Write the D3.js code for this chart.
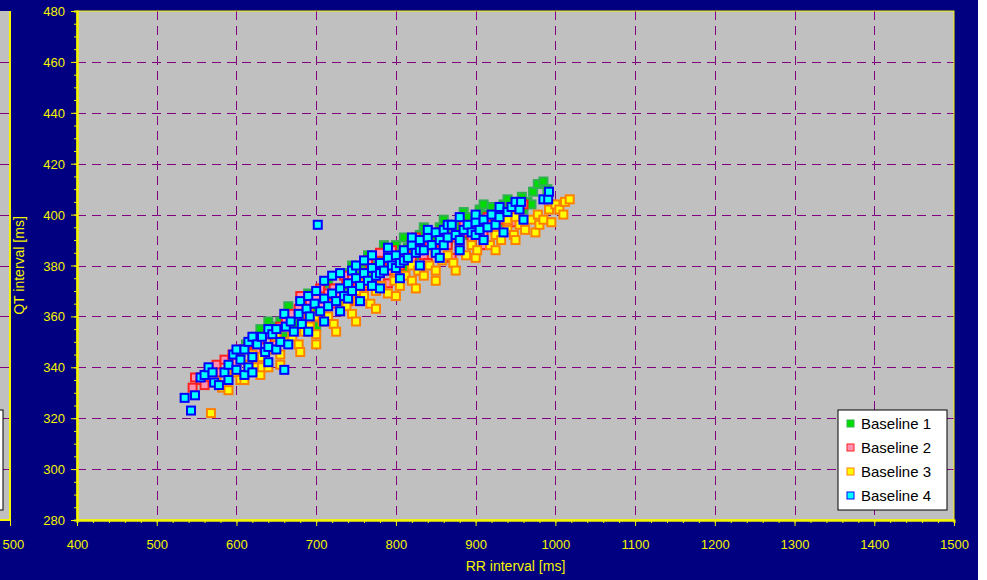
<!DOCTYPE html>
<html>
<head>
<meta charset="utf-8">
<script src="https://cdn.jsdelivr.net/npm/d3@7"></script>
<style>
  body { margin: 0; background: #fff; }
  text { font-family: Arial, "Liberation Sans", sans-serif; }
</style>
</head>
<body>
<div id="chart"></div>
<script>
// RR [ms], QT [ms] pairs
const baseline1 = [[605,346],[612,349],[620,350],[623,351],[625,352],[630,355],[640,354],[640,358],[648,356],[655,358],[660,352],[665,364],[668,360],[675,357],[680,362],[690,365],[690,369],[700,356],[700,362],[708,367],[715,369],[715,373],[722,366],[725,370],[730,371],[735,366],[738,372],[740,377],[745,370],[745,380],[752,376],[755,374],[760,378],[760,381],[765,384],[770,375],[772,380],[780,382],[785,388],[788,379],[790,386],[795,385],[800,388],[800,384],[808,383],[810,379],[810,391],[815,387],[822,389],[825,384],[830,392],[835,393],[835,395],[842,388],[845,390],[848,391],[850,386],[855,395],[860,398],[862,392],[865,389],[870,396],[875,394],[880,395],[882,397],[885,401],[890,399],[890,392],[898,396],[905,402],[905,395],[910,404],[912,400],[920,403],[925,399],[928,401],[930,397],[935,404],[940,406],[942,403],[950,405],[958,407],[960,402],[965,405],[970,404],[972,409],[978,412],[985,413],[990,410]];
const baseline2 = [[545,332],[548,336],[555,335],[560,333],[565,339],[575,341],[580,338],[585,343],[595,345],[600,342],[605,347],[615,349],[622,346],[625,347],[630,351],[640,353],[648,350],[650,352],[655,356],[662,358],[670,361],[678,363],[680,368],[685,360],[690,358],[692,365],[700,367],[700,360],[705,371],[708,364],[715,369],[720,365],[722,371],[730,368],[735,376],[738,373],[740,366],[745,375],[752,372],[760,377],[760,372],[765,382],[768,379],[775,376],[780,385],[782,380],[790,378],[790,373],[795,386],[798,382],[800,376],[805,380],[812,384],[820,382],[820,389],[825,391],[828,386],[830,378],[835,384],[840,381],[842,388],[850,386],[855,393],[858,389],[865,388],[870,383],[872,391],[880,390],[880,386],[885,396],[888,393],[895,391],[902,394],[910,392],[910,388],[915,399],[918,396],[925,394],[932,398],[940,397],[945,403],[948,400],[950,397],[955,402],[960,404]];
const baseline3 = [[568,322],[575,334],[582,332],[590,336],[590,331],[598,338],[605,335],[610,335],[615,341],[620,345],[625,340],[630,337],[632,344],[632,340],[640,340],[648,347],[650,352],[655,345],[655,341],[662,350],[670,352],[678,349],[680,346],[685,354],[690,361],[692,356],[700,353],[700,360],[700,349],[708,358],[715,360],[722,357],[725,354],[730,362],[738,364],[745,361],[750,370],[750,358],[752,366],[760,368],[760,373],[768,365],[775,370],[775,363],[782,372],[790,369],[798,374],[800,378],[800,368],[805,372],[812,376],[820,374],[820,380],[825,371],[828,378],[835,376],[842,380],[850,378],[850,385],[850,374],[858,382],[865,384],[872,381],[875,378],[880,386],[880,389],[888,384],[895,388],[900,392],[900,383],[902,386],[910,390],[918,388],[925,392],[925,386],[932,390],[940,394],[940,398],[948,392],[950,399],[950,390],[955,396],[962,394],[970,398],[975,393],[978,400],[980,396],[985,398],[992,402],[995,397],[1000,404],[1005,402],[1010,400],[1012,405],[1018,406]];
const baseline4 = [[535,328],[543,323],[548,329],[555,336],[560,337],[565,340],[570,338],[572,334],[578,333],[585,338],[590,341],[590,335],[596,345],[600,339],[600,347],[605,343],[610,347],[610,337],[615,340],[615,350],[620,344],[620,352],[620,338],[626,349],[632,352],[636,346],[640,348],[640,355],[640,342],[645,353],[650,355],[650,347],[655,350],[660,339],[660,361],[662,356],[665,349],[668,358],[672,354],[678,361],[680,366],[682,357],[688,363],[690,368],[690,354],[692,360],[698,365],[700,370],[702,396],[705,362],[710,367],[710,374],[710,358],[715,364],[720,369],[720,376],[725,366],[730,371],[730,377],[730,362],[735,368],[740,373],[740,367],[745,370],[745,378],[750,375],[750,380],[755,372],[755,366],[760,377],[760,382],[765,374],[770,379],[770,372],[770,384],[775,376],[780,381],[780,377],[780,371],[785,378],[790,383],[790,387],[795,380],[800,384],[800,379],[805,381],[805,375],[810,386],[810,382],[815,383],[820,388],[820,391],[825,385],[830,390],[830,386],[830,380],[835,386],[840,391],[840,394],[845,388],[850,393],[850,385],[855,390],[855,383],[860,394],[860,388],[865,391],[865,396],[870,396],[875,392],[880,399],[880,390],[880,386],[885,394],[890,396],[895,393],[900,397],[900,392],[900,400],[905,394],[910,398],[910,390],[915,395],[920,400],[925,396],[930,399],[930,403],[935,393],[940,401],[945,403],[950,405],[955,402],[957,405],[960,398],[985,406],[991,406],[992,409]];

const seriesNames = ['Baseline 1', 'Baseline 2', 'Baseline 3', 'Baseline 4'];
const seriesData = [baseline1, baseline2, baseline3, baseline4];
const fills = ['#00dd00', '#ff90b0', '#ffff00', '#00ffff'];
const strokes = ['#30b050', '#ff2020', '#ff8000', '#0000ff'];

const xTicks = [400, 500, 600, 700, 800, 900, 1000, 1100, 1200, 1300, 1400, 1500];
const yTicks = [280, 300, 320, 340, 360, 380, 400, 420, 440, 460, 480];
const leftPanelTicks = [500];

const width = 978, height = 580;
const yellow = '#f4f400';
const plot = { left: 77, right: 954, top: 11, bottom: 520 };

const svg = d3.select('#chart')
    .append('svg')
    .attr('width', width)
    .attr('height', height);

svg.append('rect')
    .attr('width', width)
    .attr('height', height)
    .attr('fill', '#000080');

const x = d3.scaleLinear().domain([400, 1500]).range([plot.left, plot.right]);
const y = d3.scaleLinear().domain([280, 480]).range([plot.bottom, plot.top]);
// the neighbouring panel, only its right edge (ending at 500) is visible
const xLeft = d3.scaleLinear().domain([400, 500]).range([10 - (x(500) - x(400)), 10]);

function drawPanel(g, xs, x0, x1) {
    g.append('rect')
        .attr('x', x0).attr('y', plot.top)
        .attr('width', x1 - x0).attr('height', plot.bottom - plot.top)
        .attr('fill', '#c0c0c0');

    g.selectAll('.hgrid')
        .data(yTicks.slice(1, -1))
        .enter()
        .append('line')
        .attr('x1', x0).attr('x2', x1)
        .attr('y1', d => Math.round(y(d)) + 0.5)
        .attr('y2', d => Math.round(y(d)) + 0.5)
        .attr('stroke', '#800080')
        .attr('stroke-dasharray', '9,6');

    g.selectAll('.vgrid')
        .data(xTicks.slice(1, -1).filter(d => xs(d) > x0 && xs(d) < x1))
        .enter()
        .append('line')
        .attr('x1', d => Math.round(xs(d)) + 0.5)
        .attr('x2', d => Math.round(xs(d)) + 0.5)
        .attr('y1', plot.top).attr('y2', plot.bottom)
        .attr('stroke', '#800080')
        .attr('stroke-dasharray', '9,6');
}

const left = svg.append('g');
drawPanel(left, xLeft, 0, 10);
left.append('rect')
    .attr('x', -20).attr('y', 410).attr('width', 23).attr('height', 100)
    .attr('fill', '#fff').attr('stroke', '#000');
left.append('path')
    .attr('d', `M10,${plot.top}V${plot.bottom}H0`)
    .attr('fill', 'none').attr('stroke', yellow).attr('stroke-width', 2);
const leftAxis = svg.append('g')
    .attr('transform', `translate(0, ${plot.bottom})`)
    .call(d3.axisBottom(xLeft).tickValues(leftPanelTicks).tickFormat(d3.format('d'))
        .tickSize(6).tickSizeOuter(0).tickPadding(14));
leftAxis.select('.domain').remove();

const main = svg.append('g');
drawPanel(main, x, plot.left, plot.right);

// scatter points
const marker = 8;
seriesData.forEach((data, i) => {
    main.append('g')
        .selectAll('rect')
        .data(data)
        .enter()
        .append('rect')
        .attr('x', d => x(d[0]) - marker / 2)
        .attr('y', d => y(d[1]) - marker / 2)
        .attr('width', marker)
        .attr('height', marker)
        .attr('fill', fills[i])
        .attr('stroke', strokes[i])
        .attr('stroke-width', 2);
});

// border
main.append('rect')
    .attr('x', plot.left).attr('y', plot.top)
    .attr('width', plot.right - plot.left).attr('height', plot.bottom - plot.top)
    .attr('fill', 'none').attr('stroke', yellow).attr('stroke-width', 1);

// minor ticks
const xMinor = d3.range(400, 1501, 20);
const yMinor = d3.range(280, 481, 5);
svg.append('g')
    .attr('transform', `translate(0, ${plot.bottom})`)
    .call(d3.axisBottom(x).tickValues(xMinor).tickSize(3).tickFormat(''));
svg.append('g')
    .attr('transform', `translate(${plot.left}, 0)`)
    .call(d3.axisLeft(y).tickValues(yMinor).tickSize(3).tickFormat(''));

const xAxis = svg.append('g')
    .attr('transform', `translate(0, ${plot.bottom})`)
    .call(d3.axisBottom(x).tickValues(xTicks).tickFormat(d3.format('d'))
        .tickSize(6).tickSizeOuter(0).tickPadding(14));
const yAxis = svg.append('g')
    .attr('transform', `translate(${plot.left}, 0)`)
    .call(d3.axisLeft(y).tickValues(yTicks).tickFormat(d3.format('d'))
        .tickSize(6).tickSizeOuter(0).tickPadding(6));

svg.selectAll('.domain').attr('stroke', yellow).attr('stroke-width', 2);
svg.selectAll('.tick line').attr('stroke', yellow);
svg.selectAll('.tick text')
    .attr('fill', yellow)
    .style('font-size', '13px')
    .style('font-family', 'Arial, "Liberation Sans", sans-serif');
yAxis.selectAll('.tick text').attr('dy', '0.35em');
// the cut-off panel's last label sits a little right of its tick
leftAxis.selectAll('.tick text').attr('text-anchor', 'start').attr('x', -8);

svg.append('text')
    .attr('x', (plot.left + plot.right) / 2)
    .attr('y', 571)
    .attr('text-anchor', 'middle')
    .attr('fill', yellow)
    .style('font-size', '14px')
    .text('RR interval [ms]');

svg.append('text')
    .attr('transform', `translate(24, ${(plot.top + plot.bottom) / 2}) rotate(-90)`)
    .attr('text-anchor', 'middle')
    .attr('fill', yellow)
    .style('font-size', '14px')
    .text('QT interval [ms]');

// legend
const legend = svg.append('g').attr('transform', 'translate(838, 410)');
legend.append('rect')
    .attr('width', 109).attr('height', 100)
    .attr('fill', '#fff').attr('stroke', '#000').attr('stroke-width', 1);
seriesNames.forEach((name, i) => {
    const row = legend.append('g').attr('transform', `translate(0, ${14 + i * 24})`);
    row.append('rect')
        .attr('x', 9).attr('y', -4).attr('width', 7).attr('height', 7)
        .attr('fill', fills[i]).attr('stroke', strokes[i]).attr('stroke-width', 1);
    row.append('text')
        .attr('x', 23).attr('y', 0).attr('dy', '0.35em')
        .attr('fill', '#000')
        .style('font-size', '15px')
        .text(name);
});
</script>
</body>
</html>
